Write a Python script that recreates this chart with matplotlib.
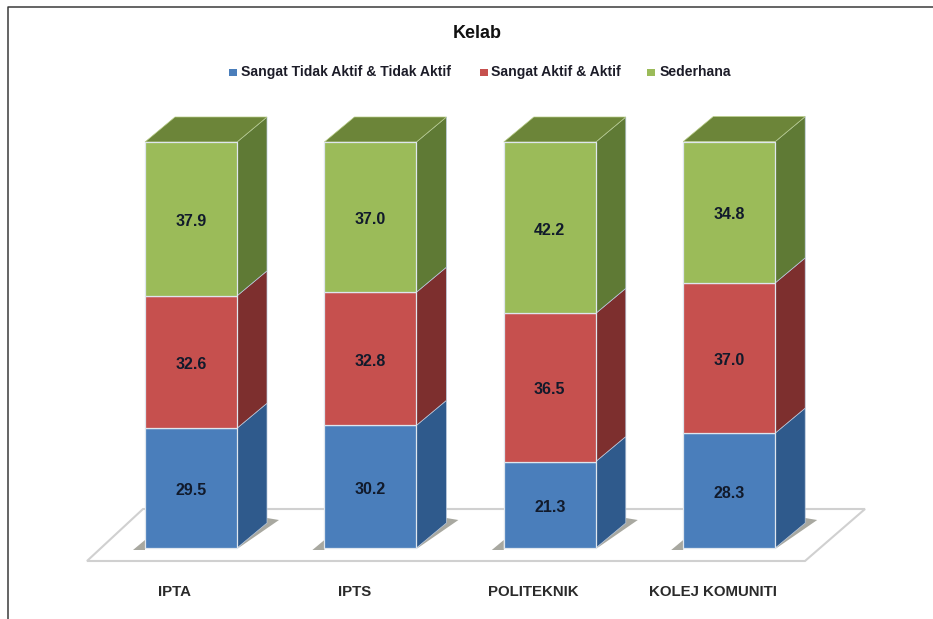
import matplotlib
matplotlib.use('Agg')
import matplotlib.pyplot as plt
from matplotlib.patches import Polygon, Rectangle

W, H = 933, 619

categories = ['IPTA', 'IPTS', 'POLITEKNIK', 'KOLEJ KOMUNITI']
tidak_aktif = [29.5, 30.2, 21.3, 28.3]
aktif = [32.6, 32.8, 36.5, 37.0]
sederhana = [37.9, 37.0, 42.2, 34.8]
series_names = ['Sangat Tidak Aktif & Tidak Aktif', 'Sangat Aktif & Aktif', 'Sederhana']
series = [tidak_aktif, aktif, sederhana]

front_cols = ['#4a7ebb', '#c6504e', '#9bbb59']
side_cols = ['#2f5a8c', '#7d2f2e', '#5f7a35']
top_col = '#6c8539'

# pixel layout of the reference
X0, DX = 191.0, 179.4     # centre of first bar, spacing
Y0, PX = 548.0, 4.06      # pixel of value 0, pixels per unit
FONT = ['Liberation Sans']

bar_w = 92 / DX
dep_x = 30 / DX
dep_y = 25 / PX


def px(x, y):
    # pixel position in the reference -> data coords
    return (x - X0) / DX, (Y0 - y) / PX


fig = plt.figure(figsize=(W / 100, H / 100), dpi=100)
ax = fig.add_axes([0, 0, 1, 1])
ax.set_xlim(px(0, 0)[0], px(W, 0)[0])
ax.set_ylim(px(0, H)[1], px(0, 0)[1])
ax.axis('off')

# outer frame: only left and top are in the picture
ax.plot(*zip(px(8, H), px(8, 6.5), px(W, 6.5)), color='#3a3a3a', lw=1.1)

# floor
ax.add_patch(Polygon([px(87, 561), px(805, 561), px(865, 509), px(143, 509)],
                     fc='white', ec='#d0d0d0', lw=1.5, zorder=1))

for i, name in enumerate(categories):
    left = i - bar_w / 2
    right = i + bar_w / 2
    # shadow on the floor
    ax.add_patch(Polygon([(left - 12 / DX, -2 / PX), (left, 8 / PX), (left, -2 / PX)],
                         fc='#a8a8a0', ec='none', zorder=2))
    ax.add_patch(Polygon([(right, -1 / PX), (right + dep_x + 12 / DX, dep_y + 3 / PX),
                          (right + dep_x, dep_y + 5 / PX)],
                         fc='#a8a8a0', ec='none', zorder=2))
    bottom = 0
    for k in range(3):
        v = series[k][i]
        ax.add_patch(Polygon([(right, bottom), (right + dep_x, bottom + dep_y),
                              (right + dep_x, bottom + v + dep_y), (right, bottom + v)],
                             fc=side_cols[k], ec='#b9c8dc', lw=0.5, zorder=3))
        ax.add_patch(Rectangle((left, bottom), bar_w, v, fc=front_cols[k],
                               ec='#dfe6ee', lw=0.9, zorder=4))
        ax.text(i, bottom + v / 2 - 2.5 / PX, f'{v:.1f}', ha='center', va='center',
                color='#111a2b', fontsize=11.5, fontweight='bold', family=FONT, zorder=5)
        bottom += v
    ax.add_patch(Polygon([(left, bottom), (right, bottom), (right + dep_x, bottom + dep_y),
                          (left + dep_x, bottom + dep_y)],
                         fc=top_col, ec='#b7cc85', lw=0.5, zorder=3))
    ly = px(0, 592)[1]
    ax.text(i - 0.09, ly, name, ha='center', va='center', color='#2a2a2a',
            fontsize=10.8, fontweight='bold', family=FONT)

# title
tx, ty = px(477, 33)
ax.text(tx, ty, 'Kelab', ha='center', va='center', fontsize=13, fontweight='bold',
        color='#111111', family=FONT)

# legend
leg_x = [229, 480, 647]
text_x = [241, 491, 660]
ly_px = 72
for k, name in enumerate(series_names):
    ax.add_patch(Rectangle(px(leg_x[k], ly_px + 3.5), 8 / DX, 7 / PX, fc=front_cols[k], ec='none'))
    x, y = px(text_x[k], ly_px)
    ax.text(x, y, name, ha='left', va='center', fontsize=10.1, fontweight='bold',
            color='#1c1c28', family=FONT)

fig.savefig('out.png', dpi=100)
